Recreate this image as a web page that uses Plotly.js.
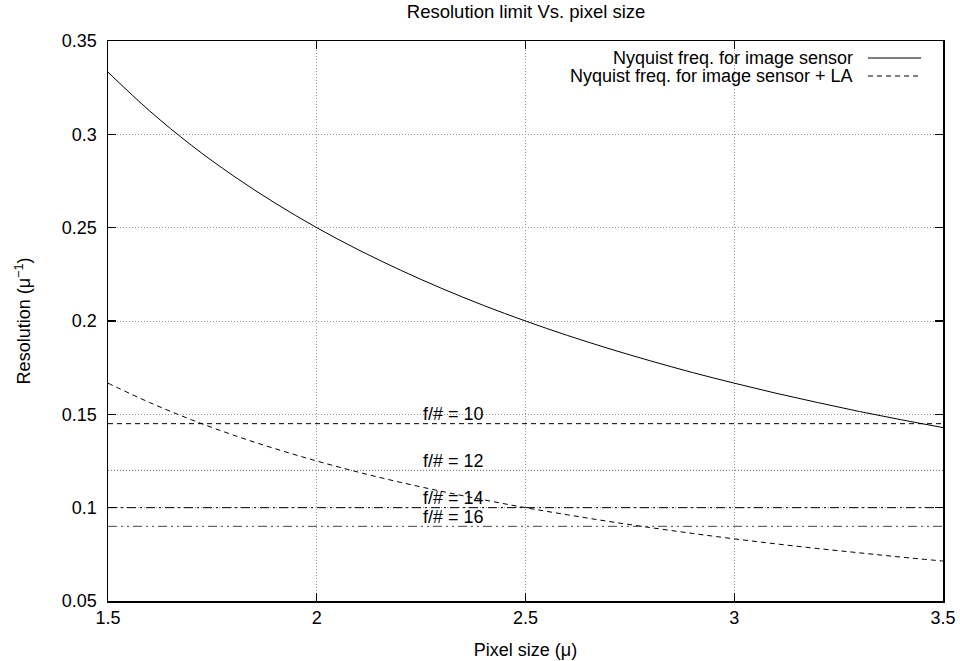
<!DOCTYPE html>
<html>
<head>
<meta charset="utf-8">
<script src="https://cdn.plot.ly/plotly-3.0.1.min.js"></script>
<style>html,body{margin:0;padding:0;background:#fff;}#chart{width:960px;height:661px;}</style>
</head>
<body>
<div id="chart"></div>
<script>
// Pixel size (micron)
const pixelSize = [1.5, 1.6, 1.7, 1.8, 1.9, 2.0, 2.1, 2.2, 2.3, 2.4, 2.5, 2.6, 2.7, 2.8, 2.9, 3.0, 3.1, 3.2, 3.3, 3.4, 3.5];
// Nyquist freq. for image sensor
const nyquistSensor = [0.3333, 0.3125, 0.2941, 0.2778, 0.2632, 0.25, 0.2381, 0.2273, 0.2174, 0.2083, 0.2, 0.1923, 0.1852, 0.1786, 0.1724, 0.1667, 0.1613, 0.1563, 0.1515, 0.1471, 0.1429];
// Nyquist freq. for image sensor + LA
const nyquistSensorLA = [0.1667, 0.1563, 0.1471, 0.1389, 0.1316, 0.125, 0.119, 0.1136, 0.1087, 0.1042, 0.1, 0.0962, 0.0926, 0.0893, 0.0862, 0.0833, 0.0806, 0.0781, 0.0758, 0.0735, 0.0714];
// f-number resolution limits
const fNumbers = [10, 12, 14, 16];
const fLimits = [0.145, 0.12, 0.1, 0.09];
const fRange = [1.5, 3.5];
const fLabelX = 2.25;
const fLabelOffset = 0.005;
const seriesNames = ["Nyquist freq. for image sensor", "Nyquist freq. for image sensor + LA"];

const FONT = "Liberation Sans, Arial, Helvetica, sans-serif";
const fDash = ["5px,4px", "1px,2px", "9px,4px,2px,4px", "9px,4px,2px,4px,2px,4px"];
const fColor = ["#000", "#666", "#000", "#444"];

const traces = [];
traces.push({x: pixelSize, y: nyquistSensor, type: "scatter", mode: "lines", line: {color: "#000", width: 1, shape: "spline"}, name: seriesNames[0], hoverinfo: "skip"});
traces.push({x: pixelSize, y: nyquistSensorLA, type: "scatter", mode: "lines", line: {color: "#000", width: 1, dash: "5px,4px", shape: "spline"}, name: seriesNames[1], hoverinfo: "skip"});
fNumbers.forEach((f, i) => {
  traces.push({x: fRange, y: [fLimits[i], fLimits[i]], type: "scatter", mode: "lines", line: {color: fColor[i], width: 1, dash: fDash[i]}, name: "f/# = " + f, hoverinfo: "skip"});
});

const annotations = fNumbers.map((f, i) => ({
  x: fLabelX, y: fLimits[i] + fLabelOffset, xref: "x", yref: "y",
  text: "f/# = " + f, showarrow: false, xanchor: "left", yanchor: "middle",
  font: {family: FONT, size: 18, color: "#000"}
}));

// gnuplot-style key (text right, sample line on its right)
const keyY = [0.9696, 0.9375];
const keyDash = ["solid", "5px,4px"];
const shapes = [
  {type: "rect", xref: "paper", yref: "paper", x0: 0.493, x1: 0.999, y0: 0.915, y1: 0.999, fillcolor: "#fff", line: {width: 0}, layer: "between"}
];
seriesNames.forEach((n, i) => {
  annotations.push({x: 0.8946, y: keyY[i], xref: "paper", yref: "paper", text: n, showarrow: false, xanchor: "right", yanchor: "middle", font: {family: FONT, size: 18, color: "#000"}});
  shapes.push({type: "line", xref: "paper", yref: "paper", x0: 0.9102, x1: 0.9737, y0: keyY[i], y1: keyY[i], line: {color: "#000", width: 1, dash: keyDash[i]}});
});

const axisCommon = {
  showline: true, linecolor: "#000", linewidth: 1.5, mirror: "ticks",
  ticks: "inside", ticklen: 8, tickcolor: "#000", tickwidth: 1.2,
  showgrid: true, gridcolor: "#999", griddash: "1px,2px", gridwidth: 1,
  zeroline: false, tickfont: {family: FONT, size: 18, color: "#000"}
};

const layout = {
  width: 960, height: 661,
  margin: {l: 108, r: 17, t: 41, b: 60},
  paper_bgcolor: "#fff", plot_bgcolor: "#fff",
  showlegend: false,
  font: {family: FONT, size: 18, color: "#000"},
  title: {text: "Resolution limit Vs. pixel size", font: {family: FONT, size: 18.5, color: "#000"}, x: 0.548, xanchor: "center", y: 0.982, yanchor: "middle"},
  xaxis: Object.assign({}, axisCommon, {range: [1.5, 3.5], tickvals: [1.5, 2, 2.5, 3, 3.5], ticktext: ["1.5", "2", "2.5", "3", "3.5"], title: {text: "Pixel size (μ)", font: {family: FONT, size: 18}, standoff: 16}}),
  yaxis: Object.assign({}, axisCommon, {range: [0.05, 0.35], tickvals: [0.05, 0.1, 0.15, 0.2, 0.25, 0.3, 0.35], ticktext: ["0.05", "0.1", "0.15", "0.2", "0.25", "0.3", "0.35"], ticklabelstandoff: 6, title: {text: "Resolution (μ<sup>−1</sup>)", font: {family: FONT, size: 18}, standoff: 26}}),
  annotations: annotations,
  shapes: shapes
};

Plotly.newPlot("chart", traces, layout, {staticPlot: true, displayModeBar: false});
</script>
</body>
</html>
